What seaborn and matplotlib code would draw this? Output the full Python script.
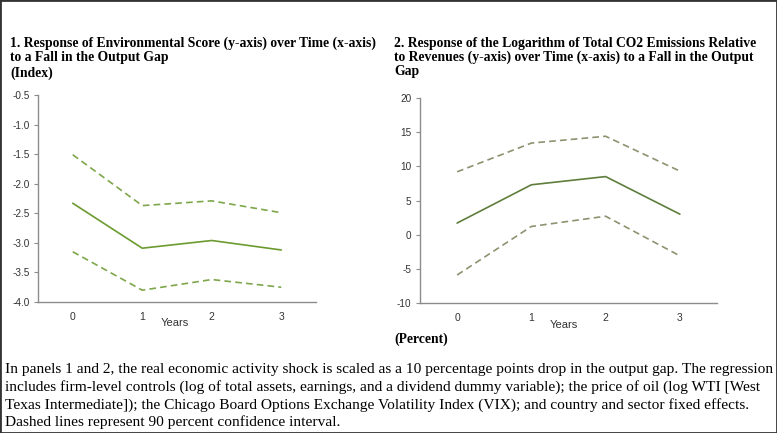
import numpy as np
import pandas as pd
import matplotlib
matplotlib.use('Agg')
import matplotlib.pyplot as plt
from matplotlib.patches import Rectangle
import seaborn as sns

# Data
years = [0, 1, 2, 3]
year_labels = ['0', '1', '2', '3']

env_mid = [-2.33, -3.09, -2.96, -3.12]
env_upper = [-1.51, -2.37, -2.29, -2.49]
env_lower = [-3.15, -3.80, -3.62, -3.75]

co2_mid = [1.7, 7.3, 8.5, 3.0]
co2_upper = [9.2, 13.4, 14.4, 9.3]
co2_lower = [-5.9, 1.2, 2.7, -3.1]

sns.set_style('white')
plt.rcParams['font.family'] = ['Liberation Sans', 'DejaVu Sans']

env_df = pd.DataFrame({'year': years, 'mid': env_mid, 'upper': env_upper, 'lower': env_lower})
co2_df = pd.DataFrame({'year': years, 'mid': co2_mid, 'upper': co2_upper, 'lower': co2_lower})

fig = plt.figure(figsize=(7.77, 4.33), dpi=100)
ax1 = fig.add_axes([0.0489, 0.3025, 0.3578, 0.4781])
ax2 = fig.add_axes([0.5405, 0.3002, 0.3823, 0.4735])

axis_gray = '#8c8c8c'


def draw_panel(ax, df, solid_color, dash_color, ylim, yticks, fmt):
    sns.lineplot(data=df, x='year', y='mid', ax=ax, color=solid_color, linewidth=1.2)
    sns.lineplot(data=df, x='year', y='upper', ax=ax, color=dash_color,
                 linewidth=1.2, linestyle=(0, (4, 2.5)))
    sns.lineplot(data=df, x='year', y='lower', ax=ax, color=dash_color,
                 linewidth=1.2, linestyle=(0, (4, 2.5)))
    ax.set_xlim(-0.5, 3.5)
    ax.set_ylim(*ylim)
    ax.set_yticks(yticks)
    ax.set_yticklabels([fmt.format(v) for v in yticks])
    ax.set_xticks(years)
    ax.set_xticklabels(year_labels)
    ax.set_xticks(np.arange(-0.5, 4.0, 1.0), minor=True)
    ax.tick_params(axis='x', which='major', length=0, pad=7, labelsize=7.5, colors='#333333')
    ax.tick_params(axis='x', which='minor', direction='in', length=3, color=axis_gray, width=0.8)
    ax.tick_params(axis='y', direction='out', length=3, color=axis_gray, width=0.8,
                   labelsize=7.2, labelcolor='#333333', pad=3, left=True)
    ax.set_xlabel('')
    ax.set_ylabel('')
    for side in ['top', 'right']:
        ax.spines[side].set_visible(False)
    for side in ['left', 'bottom']:
        ax.spines[side].set_color(axis_gray)
        ax.spines[side].set_linewidth(1.0)
    ax.patch.set_alpha(0)


draw_panel(ax1, env_df, '#6b9b30', '#7ea64a', (-4.0, -0.5),
           [-4.0, -3.5, -3.0, -2.5, -2.0, -1.5, -1.0, -0.5], '{:.1f}')
draw_panel(ax2, co2_df, '#5f7d3c', '#8e9270', (-10, 20),
           [-10, -5, 0, 5, 10, 15, 20], '{:d}')

# "Years" labels
fig.text(175 / 777, 1 - 323 / 433, 'Years', fontsize=8, color='#333333', ha='center', va='center')
fig.text(564 / 777, 1 - 325 / 433, 'Years', fontsize=8, color='#333333', ha='center', va='center')

# Titles
title_kw = dict(fontsize=9.8, fontweight='bold', family=['Liberation Serif', 'DejaVu Serif'],
                ha='left', va='center', color='black')
left_title = ['1. Response of Environmental Score (y-axis) over Time (x-axis)',
              'to a Fall in the Output Gap',
              '(Index)']
right_title = ['2. Response of the Logarithm of Total CO2 Emissions Relative',
               'to Revenues (y-axis) over Time (x-axis) to a Fall in the Output',
               'Gap']
for i, line in enumerate(left_title):
    fig.text(10 / 777, 1 - (43 + 15 * i) / 433, line, **title_kw)
for i, line in enumerate(right_title):
    fig.text(394 / 777, 1 - (43 + 14.5 * i) / 433, line, **title_kw)
fig.text(394 / 777, 1 - 339 / 433, '(Percent)', **title_kw)

# Caption
caption = ['In panels 1 and 2, the real economic activity shock is scaled as a 10 percentage points drop in the output gap. The regression',
           'includes firm-level controls (log of total assets, earnings, and a dividend dummy variable); the price of oil (log WTI [West',
           'Texas Intermediate]); the Chicago Board Options Exchange Volatility Index (VIX); and country and sector fixed effects.',
           'Dashed lines represent 90 percent confidence interval.']
for i, line in enumerate(caption):
    fig.text(5 / 777, 1 - (369 + 17.8 * i) / 433, line, fontsize=11.1,
             family=['Liberation Serif', 'DejaVu Serif'], ha='left', va='center', color='black')

# Outer frame
fig.patches.append(Rectangle((0, 0), 1, 1, transform=fig.transFigure, fill=False,
                             edgecolor='#333333', linewidth=2.0))

fig.savefig('out.png', dpi=100)
